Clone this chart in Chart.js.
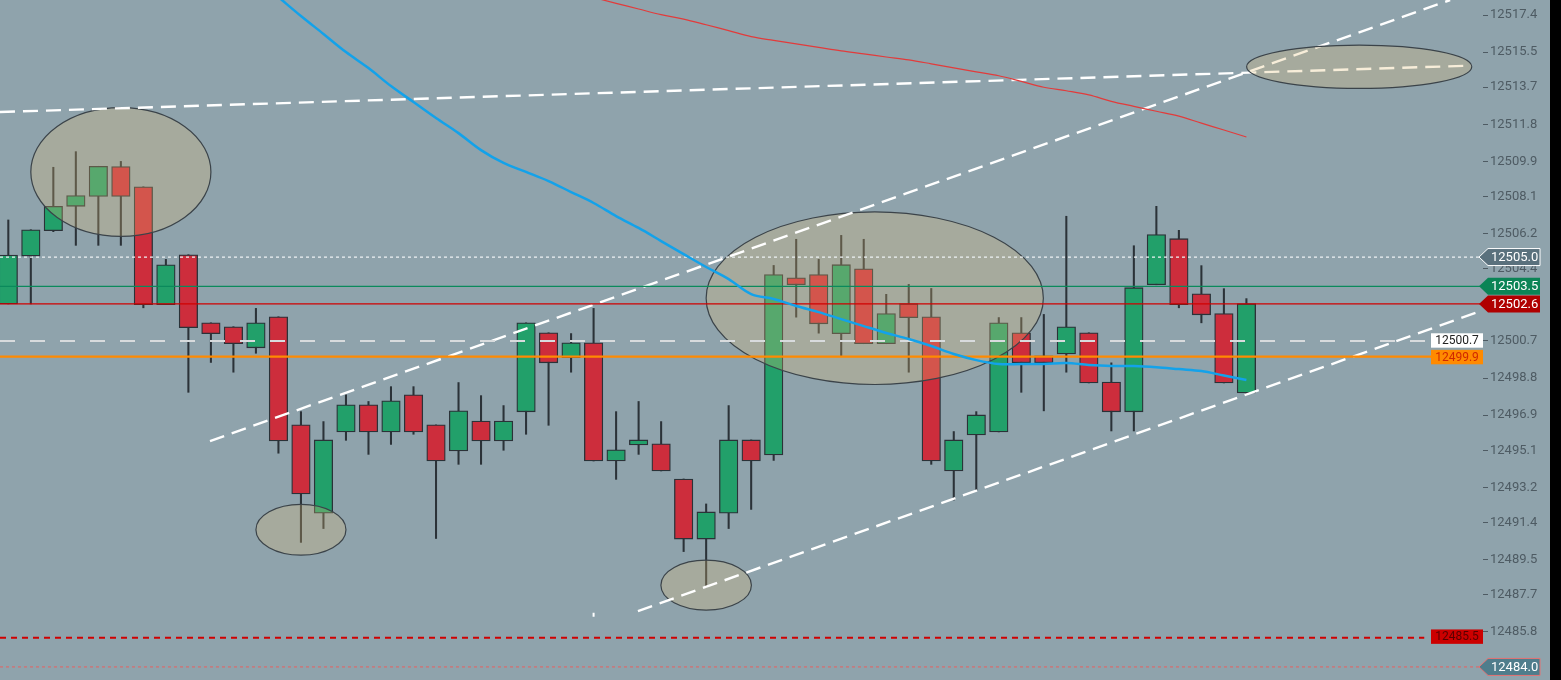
<!DOCTYPE html>
<html>
<head>
<meta charset="utf-8">
<script src="https://cdn.jsdelivr.net/npm/chart.js@4.4.1/dist/chart.umd.min.js"></script>
<style>
html,body{margin:0;padding:0;background:#000;width:1561px;height:680px;overflow:hidden}
#wrap{position:absolute;left:0;top:0;width:1550px;height:680px;background:#8fa3ac}
</style>
</head>
<body>
<div id="wrap"><canvas id="c"></canvas></div>
<script>
// ---- candle data (index 0..55) ----
const opens  = [12502.60,12505.05,12506.35,12507.60,12508.10,12509.64,12508.60,12502.56,12505.12,12501.63,
                12501.43,12500.35,12501.94,12496.40,12491.88,12496.04,12497.43,12496.04,12497.94,12496.40,
                12495.07,12496.60,12495.58,12497.07,12501.12,12499.84,12500.61,12494.55,12495.37,12495.43,
                12493.63,12490.55,12491.88,12495.63,12494.86,12503.94,12504.10,12501.07,12504.40,12500.56,
                12502.61,12501.94,12494.04,12495.89,12496.04,12501.12,12499.94,12500.04,12501.12,12498.60,
                12497.07,12503.58,12505.94,12503.12,12502.10,12498.04];
const highs  = [12506.90,12506.40,12509.60,12510.40,12509.65,12509.90,12508.60,12504.88,12505.12,12501.63,
                12501.43,12502.37,12501.94,12497.08,12496.57,12497.94,12497.60,12498.36,12498.36,12496.40,
                12498.57,12497.90,12497.39,12501.63,12501.12,12501.08,12502.37,12497.08,12497.60,12496.57,
                12493.63,12492.35,12497.39,12495.63,12504.57,12505.91,12504.88,12506.11,12505.91,12503.09,
                12503.60,12503.39,12496.06,12497.08,12501.90,12501.90,12502.06,12507.09,12501.12,12499.58,
                12505.58,12507.60,12506.37,12504.56,12503.38,12502.87];
const lows   = [12502.60,12502.60,12506.30,12505.60,12505.60,12505.60,12502.40,12502.56,12498.07,12499.60,
                12499.10,12500.07,12494.95,12490.38,12491.09,12495.61,12494.89,12495.40,12495.92,12490.58,
                12494.38,12494.38,12495.10,12495.92,12496.38,12499.10,12494.55,12493.61,12494.89,12494.04,
                12489.91,12488.07,12491.09,12492.07,12494.58,12501.92,12501.10,12499.90,12500.56,12500.56,
                12499.10,12494.38,12492.55,12493.06,12496.04,12498.07,12497.12,12499.10,12498.55,12496.09,
                12496.09,12503.58,12502.40,12501.63,12498.55,12497.94];
const closes = [12505.10,12506.40,12507.60,12508.15,12509.65,12508.10,12502.56,12504.60,12501.38,12501.07,
                12500.56,12501.63,12495.58,12492.86,12495.63,12497.43,12496.04,12497.63,12496.04,12494.55,
                12497.12,12495.58,12496.60,12501.63,12499.58,12500.61,12494.55,12495.12,12495.63,12494.04,
                12490.55,12491.94,12495.63,12494.55,12504.10,12503.58,12501.58,12504.61,12500.56,12502.10,
                12501.89,12494.55,12495.63,12496.91,12501.63,12499.58,12499.58,12501.43,12498.55,12497.07,
                12503.43,12506.15,12502.56,12502.04,12498.55,12502.61];

// ---- moving averages ----
const blueStart = 12;
const blueMA = [12518.32,12517.35,12516.43,12515.50,12514.68,12513.76,12512.94,12512.12,12511.35,12510.48,
                12509.82,12509.36,12508.89,12508.33,12507.77,12507.10,12506.49,12505.82,12505.15,12504.49,
                12503.87,12503.10,12502.85,12502.49,12502.18,12501.82,12501.46,12501.11,12500.80,12500.44,
                12500.03,12499.72,12499.52,12499.52,12499.52,12499.57,12499.47,12499.42,12499.42,12499.36,
                12499.26,12499.16,12498.93,12498.70];
const redStart = 26;
const redMA  = [12518.30,12518.00,12517.71,12517.42,12517.19,12516.90,12516.60,12516.29,12516.10,12515.92,
                12515.74,12515.56,12515.41,12515.25,12515.10,12514.90,12514.69,12514.49,12514.29,12514.00,
                12513.70,12513.52,12513.31,12512.98,12512.72,12512.47,12512.22,12511.86,12511.51,12511.15];

// ---- trend lines (candle index, price) ----
const trend1X = [-0.37, 65.02], trend1Y = [12512.43, 12514.81];
const trend2X = [8.96, 64.05],  trend2Y = [12495.57, 12518.17];
const trend3X = [27.97, 65.38], trend3Y = [12486.86, 12502.22];
const markX = [26.0, 26.0], markY = [12486.77, 12486.57];

// ---- ellipses (centre index, centre price, radius in index, radius in price) ----
const ellCx = [5.0, 13.0, 31.0, 38.49, 60.01];
const ellCy = [12509.36, 12491.03, 12488.19, 12502.89, 12514.75];
const ellRx = [4.0, 2.0, 2.01, 7.49, 5.0];
const ellRy = [3.30, 1.30, 1.28, 4.42, 1.11];

// ---- horizontal levels ----
const levels = [12505.0, 12503.5, 12502.6, 12500.7, 12499.9, 12485.5, 12484.0];
const levelEnds = [65.6, 65.6, 65.6, 63.2, 63.2, 62.9, 65.5];

// ---- axis tick labels ----
const tickLabels = [12485.8,12487.7,12489.5,12491.4,12493.2,12495.1,12496.9,12498.8,12500.7,
                    12502.5,12504.4,12506.2,12508.1,12509.9,12511.8,12513.7,12515.5,12517.4];

const X_MIN = -0.369, X_MAX = 65.51, Y_MIN = 12483.33, Y_MAX = 12518.17;

const GREEN = '#22a06a', RED = '#cd2d3c', EDGE = '#2b3238';

const levelStyles = [
  {color:'#eef2f4', width:1.2, dash:[3,3]},
  {color:'#0b8a5c', width:1.2, dash:[]},
  {color:'#d00000', width:1.4, dash:[]},
  {color:'#d8dbdd', width:2.2, dash:[15,15]},
  {color:'#ff8a00', width:2.2, dash:[]},
  {color:'#d00000', width:2, dash:[6,5]},
  {color:'#e86060', width:1, dash:[3,3]}
];

const datasets = [];
datasets.push({
  id:'wicks', type:'bar', order:20, grouped:false,
  data: highs.map((h,i)=>({x:i, y:[lows[i], h]})),
  backgroundColor: EDGE, borderWidth:0, barThickness:1.4
});
datasets.push({
  id:'bodies', type:'bar', order:19, grouped:false,
  data: opens.map((o,i)=>({x:i, y:[o, closes[i]]})),
  backgroundColor: opens.map((o,i)=> closes[i] >= o ? GREEN : RED),
  borderColor: EDGE, borderWidth:1.3, borderSkipped:false, barThickness:18.5
});
const trendStyle = {type:'line', borderColor:'#ffffff', borderWidth:2.4, borderDash:[15,8], pointRadius:0, fill:false};
datasets.push(Object.assign({id:'trend1', order:18.3, data: trend1X.map((x,k)=>({x, y:trend1Y[k]}))}, trendStyle));
datasets.push(Object.assign({id:'trend2', order:18.2, data: trend2X.map((x,k)=>({x, y:trend2Y[k]}))}, trendStyle));
datasets.push(Object.assign({id:'trend3', order:18.1, data: trend3X.map((x,k)=>({x, y:trend3Y[k]}))}, trendStyle));
datasets.push({id:'mark', type:'line', order:18, data: markX.map((x,k)=>({x, y:markY[k]})),
  borderColor:'#ffffff', borderWidth:2, pointRadius:0});
levels.forEach((v,k)=>{
  const s = levelStyles[k];
  datasets.push({id:'lvl'+k, type:'line', order:10-k, data:[{x:X_MIN, y:v},{x:levelEnds[k], y:v}],
    borderColor:s.color, borderWidth:s.width, borderDash:s.dash, pointRadius:0, fill:false});
});
datasets.push({id:'redMA', type:'line', order:2, data: redMA.map((v,k)=>({x:redStart+k, y:v})),
  borderColor:'#e23b3b', borderWidth:1.2, pointRadius:0, tension:0.35, fill:false});
datasets.push({id:'blueMA', type:'line', order:1, data: blueMA.map((v,k)=>({x:blueStart+k, y:v})),
  borderColor:'#13a2ea', borderWidth:2.5, pointRadius:0, tension:0.35, fill:false});

function drawEllipses(chart, idxs){
  const ctx = chart.ctx, xs = chart.scales.x, ys = chart.scales.y, a = chart.chartArea;
  ctx.save();
  ctx.beginPath(); ctx.rect(a.left, a.top, a.right-a.left, a.bottom-a.top); ctx.clip();
  idxs.forEach(i=>{
    const cx = xs.getPixelForValue(ellCx[i]), cy = ys.getPixelForValue(ellCy[i]);
    const rx = Math.abs(xs.getPixelForValue(ellCx[i]+ellRx[i]) - cx);
    const ry = Math.abs(ys.getPixelForValue(ellCy[i]+ellRy[i]) - cy);
    ctx.beginPath();
    ctx.ellipse(cx, cy, rx, ry, 0, 0, Math.PI*2);
    ctx.fillStyle = 'rgba(228,190,120,0.28)';
    ctx.fill();
    ctx.lineWidth = 1.2;
    ctx.strokeStyle = '#3b4349';
    ctx.stroke();
  });
  ctx.restore();
}

function tag(ctx, right, y, fill, stroke, text, color){
  const tip = right - 4, x1 = right + 5, x2 = right + 57, h = 8.5;
  ctx.beginPath();
  ctx.moveTo(tip, y); ctx.lineTo(x1, y-h); ctx.lineTo(x2, y-h); ctx.lineTo(x2, y+h); ctx.lineTo(x1, y+h); ctx.closePath();
  ctx.fillStyle = fill; ctx.fill();
  if (stroke){ ctx.lineWidth = 1; ctx.strokeStyle = stroke; ctx.stroke(); }
  ctx.fillStyle = color; ctx.font = '13px Roboto'; ctx.textBaseline = 'middle'; ctx.textAlign = 'left';
  ctx.fillText(text, right + 8, y + 0.5);
}
function box(ctx, right, y, fill, text, color){
  const w = 52, h = 7.2;
  ctx.fillStyle = fill; ctx.fillRect(right - w, y - h, w, 2*h);
  ctx.fillStyle = color; ctx.font = '12px Roboto'; ctx.textBaseline = 'middle'; ctx.textAlign = 'center';
  ctx.fillText(text, right - w/2, y + 0.5);
}

const overlay = {
  id:'overlay',
  afterDatasetDraw(chart, args){
    const ds = chart.data.datasets[args.index];
    if (ds.id === 'bodies') drawEllipses(chart, [0,1,2,3]);
    if (ds.id === 'trend3') drawEllipses(chart, [4]);
  },
  afterDraw(chart){
    const ctx = chart.ctx, ys = chart.scales.y, r = chart.chartArea.right;
    const py = v => ys.getPixelForValue(v);
    ctx.save();
    box(ctx, r, py(levels[3]) - 0.5, '#ffffff', levels[3].toFixed(1), '#222222');
    box(ctx, r, py(levels[4]) + 0.5, '#ff8a00', levels[4].toFixed(1), '#d02800');
    box(ctx, r, py(levels[5]) - 1, '#cc0000', levels[5].toFixed(1), '#5a0000');
    tag(ctx, r, py(levels[0]), '#5a717d', '#ffffff', levels[0].toFixed(1), '#ffffff');
    tag(ctx, r, py(levels[1]), '#0b8456', null, levels[1].toFixed(1), '#ffffff');
    tag(ctx, r, py(levels[2]), '#b00000', null, levels[2].toFixed(1), '#ffffff');
    tag(ctx, r, py(levels[6]), '#4f7d8c', '#e57373', levels[6].toFixed(1), '#ffffff');
    ctx.restore();
  }
};

function build(){
  new Chart(document.getElementById('c'), {
    type:'bar',
    data:{datasets},
    plugins:[overlay],
    options:{
      responsive:true, maintainAspectRatio:false, animation:false, events:[],
      layout:{padding:0},
      plugins:{legend:{display:false}, tooltip:{enabled:false}},
      scales:{
        x:{type:'linear', min:X_MIN, max:X_MAX, offset:false, display:false},
        y:{type:'linear', position:'right', min:Y_MIN, max:Y_MAX,
           afterBuildTicks: s => { s.ticks = tickLabels.map(v=>({value:v})); },
           afterFit: s => { s.width = 67; s.paddingTop = 0; s.paddingBottom = 0; },
           grid:{drawOnChartArea:false, drawTicks:true, tickLength:5, color:'#4e5b63', lineWidth:1},
           border:{display:false},
           ticks:{autoSkip:false, padding:2, color:'#4e5b63', font:{family:'Roboto', size:13},
                  callback: v => Number(v).toFixed(1)}
        }
      }
    }
  });
}
if (document.fonts && document.fonts.load) {
  Promise.all([document.fonts.load('13px Roboto'), document.fonts.load('12px Roboto')]).then(build, build);
} else build();
</script>
</body>
</html>
